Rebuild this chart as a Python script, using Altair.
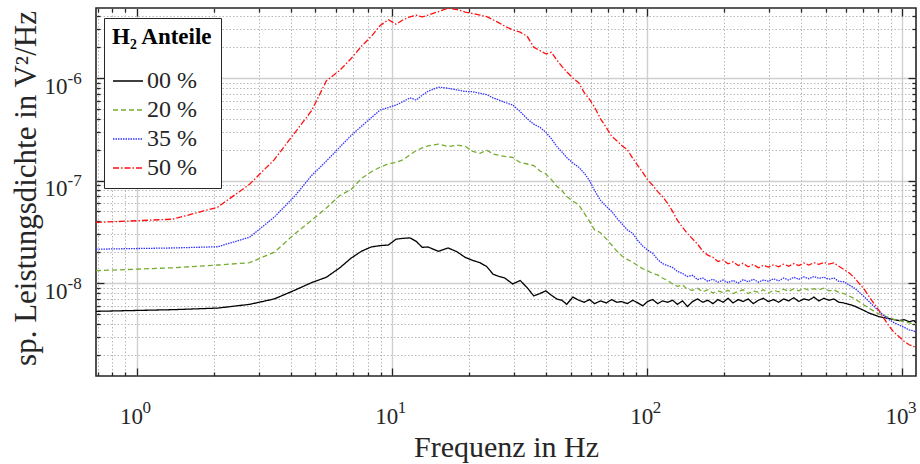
import altair as alt
import pandas as pd

# ---------------- data (values in units of 1e-9 V^2/Hz) ----------------
FREQ = [
    0.69, 1.38, 2.07, 2.76, 3.45, 4.14, 4.83, 5.52, 6.21, 6.90,
    7.59, 8.28, 8.97, 9.66, 10.35, 11.04, 11.73, 12.42, 13.11, 13.80,
    15.18, 16.56, 17.94, 19.32, 20.70, 22.08, 23.46, 24.84, 26.22, 27.60,
    29.67, 31.74, 33.81, 35.88, 37.95, 40.02, 42.09, 44.16, 46.23, 48.30,
    51.06, 53.82, 56.58, 59.34, 62.10, 65.55, 69.00, 72.45, 75.90, 79.35,
    83.49, 87.63, 91.77, 95.91, 100.1, 104.9, 109.8, 114.6, 120.1, 125.6,
    131.1, 137.4, 143.5, 150.4, 157.3, 164.9, 172.5, 180.8, 189.1, 198.1,
    207.1, 216.8, 227.1, 237.5, 248.5, 260.2, 272.6, 285.0, 298.1, 312.6,
    327.1, 342.3, 358.2, 375.1, 392.4, 410.3, 429.6, 449.6, 470.3, 492.0,
    514.7, 538.2, 563.0, 589.3, 616.9, 645.1, 674.8, 706.3, 739.4, 773.9,
    809.8, 847.1, 886.5, 927.6, 970.4, 1015, 1062, 1110, 1130,
]
P00 = [
    5.3, 5.5, 5.7, 6.2, 7.0, 8.5, 10.1, 11.4, 14.0, 17.5,
    20.5, 22.5, 23.2, 23.5, 26.8, 27.3, 27.6, 25.5, 22.3, 22.5,
    20.4, 22.0, 20.2, 17.8, 16.6, 15.8, 14.5, 12.2, 11.6, 11.2,
    9.8, 10.6, 9.0, 7.5, 7.9, 8.4, 7.6, 7.0, 6.8, 6.2,
    7.3, 6.8, 6.5, 6.9, 6.3, 6.7, 6.4, 6.9, 6.5, 6.6,
    6.3, 6.8, 6.4, 6.0, 6.6, 6.9, 6.3, 6.7, 6.5, 6.8,
    6.2, 6.7, 5.9, 6.6, 7.0, 6.5, 6.8, 6.3, 6.9, 6.5,
    7.1, 6.4, 6.9, 6.6, 7.0, 6.3, 6.8, 7.1, 6.6, 6.9,
    6.5, 7.0, 6.7, 7.2, 6.6, 7.0, 6.8, 7.3, 6.7, 7.1,
    6.8, 7.0, 6.5, 6.4, 6.2, 6.0, 5.7, 5.4, 5.1, 4.9,
    4.7, 4.6, 4.5, 4.4, 4.3, 4.4, 4.2, 4.3, 4.1,
]
P20 = [
    13.2, 14.1, 15.0, 15.8, 20.0, 30.0, 41.0, 54.0, 71.0, 82.0,
    105, 122, 135, 146, 150, 160, 178, 196, 208, 218,
    227, 214, 222, 216, 192, 184, 198, 182, 176, 172,
    168, 150, 145, 140, 124, 116, 102, 88, 80, 70,
    63, 58, 48, 40, 33, 31, 27, 23.5, 20.5, 18.5,
    17.0, 16.0, 14.8, 13.8, 13.2, 12.4, 12.0, 11.2, 10.6, 9.8,
    9.3, 9.6, 8.7, 8.5, 8.9, 8.2, 8.6, 8.0, 8.4, 8.1,
    8.5, 7.9, 8.3, 8.6, 7.9, 8.4, 8.1, 8.6, 8.0, 8.5,
    8.2, 8.7, 8.3, 8.8, 8.4, 8.9, 8.5, 8.8, 8.6, 8.9,
    8.4, 8.6, 8.1, 7.9, 7.5, 7.1, 6.6, 6.1, 5.7, 5.3,
    5.0, 4.8, 4.6, 4.4, 4.3, 4.2, 4.1, 4.0, 4.0,
]
P35 = [
    21.4, 22.0, 22.6, 28.0, 44.0, 70.0, 112, 155, 210, 275,
    340, 410, 488, 515, 545, 590, 640, 610, 680, 740,
    815, 795, 765, 740, 735, 710, 690, 640, 610, 580,
    545, 470, 400, 355, 330, 295, 255, 215, 190, 168,
    148, 135, 118, 100, 80, 64, 56, 50, 43, 38,
    33, 30.5, 26, 23, 21, 19.5, 17, 15.5, 14.8, 14.2,
    13.0, 12.4, 11.6, 11.9, 10.8, 11.2, 10.4, 10.9, 10.2, 10.7,
    10.1, 10.6, 10.0, 10.8, 10.3, 10.9, 10.2, 10.7, 10.4, 11.0,
    10.5, 11.2, 10.7, 11.4, 10.9, 11.5, 11.0, 11.6, 11.1, 11.4,
    10.9, 11.2, 10.4, 10.3, 9.6, 9.0, 8.2, 7.4, 6.6, 5.9,
    5.3, 4.8, 4.4, 4.1, 3.9, 3.7, 3.5, 3.4, 3.3,
]
P50 = [
    39, 42, 55, 92, 160, 290, 480, 940, 1180, 1550,
    2050, 2550, 3250, 3700, 3350, 3700, 3950, 4100, 3950, 4100,
    4450, 4800, 4650, 4400, 4250, 4100, 3970, 3700, 3450, 3200,
    2950, 2800, 2550, 2000, 1850, 1720, 1780, 1500, 1300, 1150,
    1000, 900, 720, 620, 520, 400, 330, 270, 245, 220,
    200, 165, 140, 120, 102, 90, 78, 70, 60, 50,
    41, 35, 30.5, 27, 24, 20.5, 18.7, 17.8, 16.2, 16.8,
    15.4, 16.1, 14.8, 15.6, 14.4, 15.2, 14.1, 14.9, 14.3, 15.1,
    14.4, 15.3, 14.6, 15.5, 14.8, 15.7, 15.0, 15.8, 15.2, 15.9,
    15.3, 15.7, 14.6, 13.6, 12.6, 11.4, 10.0, 8.8, 7.4, 6.3,
    5.4, 4.5, 3.8, 3.3, 3.0, 2.7, 2.5, 2.4, 2.3,
]
SERIES = ["00 %", "20 %", "35 %", "50 %"]
COLORS = ["#000000", "#77ac30", "#3535ff", "#ff1010"]
DASHES = [[1, 0], [5, 3], [1.5, 1], [6, 2, 1.5, 2]]

X_TICKS = [0.7, 0.8, 0.9, 1, 2, 3, 4, 5, 6, 7, 8, 9, 10, 20, 30, 40, 50, 60, 70, 80, 90,
           100, 200, 300, 400, 500, 600, 700, 800, 900, 1000]
X_MAJOR = [1, 10, 100, 1000]
X_EXP = ["0", "1", "2", "3"]
Y_TICKS = [2e-9, 3e-9, 4e-9, 5e-9, 6e-9, 7e-9, 8e-9, 9e-9,
           1e-8, 2e-8, 3e-8, 4e-8, 5e-8, 6e-8, 7e-8, 8e-8, 9e-8,
           1e-7, 2e-7, 3e-7, 4e-7, 5e-7, 6e-7, 7e-7, 8e-7, 9e-7,
           1e-6, 2e-6, 3e-6, 4e-6]
Y_MAJOR = [1e-8, 1e-7, 1e-6]
Y_EXP = ["-8", "-7", "-6"]
BASE = "10"

X_DOMAIN = [0.69, 1130]
Y_DOMAIN = [1.24e-9, 4.82e-6]

rows = []
for name, vals in zip(SERIES, [P00, P20, P35, P50]):
    assert len(vals) == len(FREQ)
    for f, v in zip(FREQ, vals):
        rows.append({"f": f, "v": v * 1e-9, "series": name})
df = pd.DataFrame(rows)


def is_major(majors):
    return " || ".join(f"abs(datum.value/{m!r} - 1) < 1e-6" for m in majors)


def label_expr(majors, labels):
    expr = "''"
    for m, lab in reversed(list(zip(majors, labels))):
        expr = f"(abs(datum.value/{m!r} - 1) < 1e-6) ? '{lab}' : {expr}"
    return expr


FONT = "Liberation Serif"
INK = "#262626"
W, H = 820, 368
XMAJ = is_major(X_MAJOR)
YMAJ = is_major(Y_MAJOR)

xscale = alt.Scale(type="log", domain=X_DOMAIN, nice=False)
yscale = alt.Scale(type="log", domain=Y_DOMAIN, nice=False)


def grid_props(test):
    return dict(
        grid=True,
        gridColor={"condition": {"test": test, "value": "#cfcfcf"}, "value": "#b8b8b8"},
        gridDash={"condition": {"test": test, "value": []}, "value": [1.5, 2]},
        gridWidth={"condition": {"test": test, "value": 1.4}, "value": 1},
    )


# main axes: base "10" labels, titles, grid
x_main = alt.Axis(
    values=X_TICKS, labelExpr=label_expr(X_MAJOR, [BASE] * len(X_MAJOR)), ticks=False,
    tickSize=0, domain=False, labelFont=FONT, labelFontSize=23, labelColor=INK,
    labelBaseline="alphabetic", labelPadding=47, labelOffset=-6, labelOverlap=False,
    labelFlush=False, title="Frequenz in Hz", titleFont=FONT, titleFontSize=30,
    titleFontWeight="normal", titleColor=INK, titleBaseline="alphabetic", titleY=80,
    **grid_props(XMAJ),
)
y_main = alt.Axis(
    values=Y_TICKS, labelExpr=label_expr(Y_MAJOR, [BASE] * len(Y_MAJOR)), ticks=False,
    tickSize=0, domain=False, labelFont=FONT, labelFontSize=23, labelColor=INK,
    labelBaseline="alphabetic", labelAlign="right", labelOffset=15, labelPadding=29,
    labelOverlap=False, labelFlush=False, title="sp. Leistungsdichte in V\u00b2/Hz",
    titleFont=FONT, titleFontSize=31, titleFontWeight="normal", titleColor=INK,
    titleAngle=270, titleBaseline="alphabetic", titleAlign="center", titleX=-61,
    titleY=180, **grid_props(YMAJ),
)

# exponent axes (superscripts)
x_exp = alt.Axis(
    values=X_MAJOR, orient="bottom", labelExpr=label_expr(X_MAJOR, X_EXP), ticks=False,
    tickSize=0, domain=False, grid=False, title="", labelFont=FONT, labelFontSize=17,
    labelColor=INK, labelAlign="left", labelBaseline="alphabetic", labelPadding=36,
    labelOffset=5, labelOverlap=False, labelFlush=False,
)
y_exp = alt.Axis(
    values=Y_MAJOR, orient="left", labelExpr=label_expr(Y_MAJOR, Y_EXP), ticks=False,
    tickSize=0, domain=False, grid=False, title="", labelFont=FONT, labelFontSize=17,
    labelColor=INK, labelAlign="left", labelBaseline="alphabetic", labelPadding=29,
    labelOffset=5, labelOverlap=False, labelFlush=False,
)


def tick_axis(values, test, orient, offset):
    return alt.Axis(
        values=values, orient=orient, offset=offset, labels=False, grid=False,
        domain=False, ticks=True, title="", tickColor=INK, tickWidth=1.3,
        tickSize={"condition": {"test": test, "value": 8}, "value": 4},
    )


legend = alt.Legend(
    title="H\u2082 Anteile", orient="none", legendX=8, legendY=10,
    fillColor="white", strokeColor=INK, padding=8, cornerRadius=0,
    titleFont=FONT, titleFontSize=23, titleFontWeight="bold", titleColor="#000000",
    titlePadding=16, labelFont=FONT, labelFontSize=24, labelColor=INK,
    symbolType="stroke", symbolSize=900, symbolStrokeWidth=1.5, rowPadding=1,
    labelOffset=3,
)

lines = alt.Chart(df).mark_line(strokeWidth=1.3, clip=True).encode(
    x=alt.X("f:Q", scale=xscale, axis=x_main),
    y=alt.Y("v:Q", scale=yscale, axis=y_main),
    color=alt.Color("series:N", scale=alt.Scale(domain=SERIES, range=COLORS), legend=legend),
    strokeDash=alt.StrokeDash("series:N", scale=alt.Scale(domain=SERIES, range=DASHES), legend=legend),
)

exps = alt.Chart(df).mark_line(strokeOpacity=0).encode(
    x=alt.X("f:Q", scale=xscale, axis=x_exp),
    y=alt.Y("v:Q", scale=yscale, axis=y_exp),
)
ticks_a = alt.Chart(df).mark_line(strokeOpacity=0).encode(
    x=alt.X("f:Q", scale=xscale, axis=tick_axis(X_TICKS, XMAJ, "top", -H)),
    y=alt.Y("v:Q", scale=yscale, axis=tick_axis(Y_TICKS, YMAJ, "right", -W)),
)
ticks_b = alt.Chart(df).mark_line(strokeOpacity=0).encode(
    x=alt.X("f:Q", scale=xscale, axis=tick_axis(X_TICKS, XMAJ, "bottom", -H)),
    y=alt.Y("v:Q", scale=yscale, axis=tick_axis(Y_TICKS, YMAJ, "left", -W)),
)

chart = (
    alt.layer(lines, exps, ticks_a, ticks_b)
    .resolve_axis(x="independent", y="independent")
    .properties(
        width=W, height=H, autosize="none",
        padding={"left": 96, "top": 8, "right": 4, "bottom": 88},
        background="white",
    )
    .configure_view(stroke=INK, strokeWidth=1.6)
)

chart.save("out.html", embed_options={"renderer": "svg", "actions": False})
